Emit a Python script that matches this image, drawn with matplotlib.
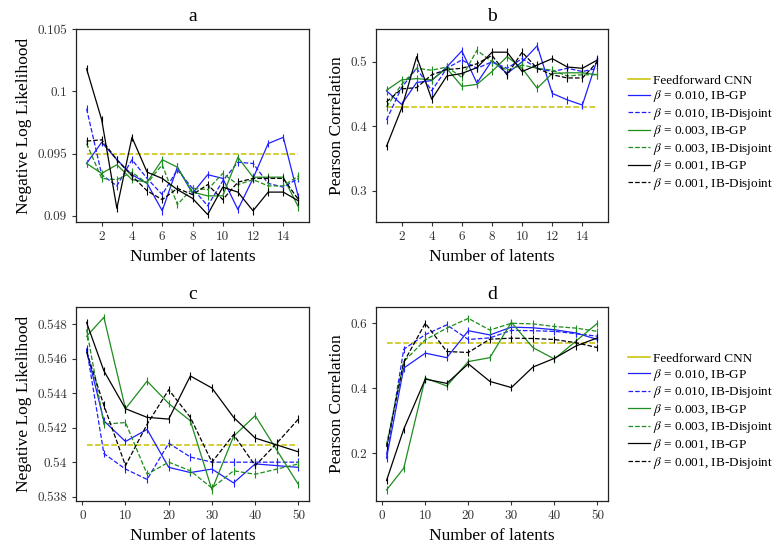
import numpy as np
import matplotlib
matplotlib.use("Agg")
import matplotlib.pyplot as plt
from matplotlib.ticker import FuncFormatter

plt.rcParams['font.family'] = ['Liberation Serif', 'DejaVu Serif']
plt.rcParams['mathtext.fontset'] = 'stix'

# latents axis
latents_small = [1, 2, 3, 4, 5, 6, 7, 8, 9, 10, 11, 12, 13, 14, 15]
latents_big = [1, 5, 10, 15, 20, 25, 30, 35, 40, 45, 50]

series_labels = [r'$\beta$ = 0.010, IB-GP', r'$\beta$ = 0.010, IB-Disjoint',
                 r'$\beta$ = 0.003, IB-GP', r'$\beta$ = 0.003, IB-Disjoint',
                 r'$\beta$ = 0.001, IB-GP', r'$\beta$ = 0.001, IB-Disjoint']

# panel a - negative log likelihood, small latents
cnn_a = 0.095
a_gp_010 = [0.0942, 0.0959, 0.0945, 0.0933, 0.0926, 0.0904, 0.0939, 0.0918, 0.0933, 0.0930, 0.0905, 0.0930, 0.0958, 0.0963, 0.0915]
a_dj_010 = [0.0986, 0.0933, 0.0924, 0.0945, 0.0930, 0.0917, 0.0937, 0.0922, 0.0908, 0.0928, 0.0943, 0.0942, 0.0926, 0.0923, 0.0930]
a_gp_003 = [0.0942, 0.0934, 0.0941, 0.0929, 0.0927, 0.0945, 0.0939, 0.0919, 0.0916, 0.0916, 0.0947, 0.0931, 0.0931, 0.0931, 0.0907]
a_dj_003 = [0.0958, 0.0930, 0.0929, 0.0935, 0.0926, 0.0941, 0.0909, 0.0922, 0.0921, 0.0934, 0.0925, 0.0929, 0.0924, 0.0924, 0.0932]
a_gp_001 = [0.1018, 0.0977, 0.0906, 0.0963, 0.0935, 0.0930, 0.0921, 0.0914, 0.0901, 0.0923, 0.0919, 0.0904, 0.0919, 0.0919, 0.0912]
a_dj_001 = [0.0960, 0.0961, 0.0945, 0.0932, 0.0920, 0.0913, 0.0922, 0.0917, 0.0925, 0.0913, 0.0927, 0.0930, 0.0930, 0.0930, 0.0913]

# panel b - pearson correlation, small latents
cnn_b = 0.43
b_gp_010 = [0.455, 0.434, 0.468, 0.471, 0.492, 0.517, 0.467, 0.502, 0.482, 0.500, 0.525, 0.451, 0.441, 0.433, 0.505]
b_dj_010 = [0.410, 0.460, 0.490, 0.455, 0.490, 0.503, 0.490, 0.500, 0.490, 0.505, 0.490, 0.485, 0.490, 0.485, 0.490]
b_gp_003 = [0.456, 0.472, 0.474, 0.472, 0.490, 0.462, 0.465, 0.485, 0.508, 0.490, 0.459, 0.482, 0.483, 0.483, 0.480]
b_dj_003 = [0.430, 0.465, 0.490, 0.487, 0.492, 0.476, 0.518, 0.500, 0.487, 0.495, 0.490, 0.487, 0.478, 0.480, 0.480]
b_gp_001 = [0.369, 0.428, 0.508, 0.442, 0.478, 0.482, 0.491, 0.515, 0.515, 0.485, 0.495, 0.505, 0.492, 0.490, 0.503]
b_dj_001 = [0.438, 0.458, 0.460, 0.480, 0.488, 0.490, 0.497, 0.510, 0.480, 0.515, 0.490, 0.480, 0.475, 0.475, 0.500]

# panel c - negative log likelihood, big latents
cnn_c = 0.541
c_gp_010 = [0.5465, 0.5424, 0.5412, 0.5419, 0.5397, 0.5394, 0.5396, 0.5388, 0.5399, 0.5398, 0.5397]
c_dj_010 = [0.5466, 0.5405, 0.5396, 0.5390, 0.5411, 0.5403, 0.5400, 0.5400, 0.5400, 0.5400, 0.5400]
c_gp_003 = [0.5473, 0.5484, 0.5431, 0.5447, 0.5434, 0.5424, 0.5384, 0.5415, 0.5427, 0.5407, 0.5387]
c_dj_003 = [0.5477, 0.5422, 0.5423, 0.5393, 0.5400, 0.5395, 0.5385, 0.5395, 0.5393, 0.5396, 0.5399]
c_gp_001 = [0.5481, 0.5453, 0.5431, 0.5426, 0.5425, 0.5450, 0.5443, 0.5426, 0.5414, 0.5410, 0.5406]
c_dj_001 = [0.5464, 0.5433, 0.5398, 0.5422, 0.5442, 0.5426, 0.5400, 0.5416, 0.5398, 0.5411, 0.5425]

# panel d - pearson correlation, big latents
cnn_d = 0.54
d_gp_010 = [0.185, 0.462, 0.508, 0.494, 0.577, 0.564, 0.588, 0.586, 0.580, 0.570, 0.550]
d_dj_010 = [0.195, 0.520, 0.565, 0.595, 0.550, 0.555, 0.578, 0.577, 0.575, 0.568, 0.560]
d_gp_003 = [0.087, 0.154, 0.431, 0.407, 0.482, 0.494, 0.603, 0.525, 0.490, 0.545, 0.600]
d_dj_003 = [0.226, 0.482, 0.549, 0.585, 0.615, 0.579, 0.600, 0.598, 0.590, 0.585, 0.575]
d_gp_001 = [0.116, 0.274, 0.428, 0.415, 0.475, 0.421, 0.402, 0.465, 0.492, 0.530, 0.555]
d_dj_001 = [0.220, 0.480, 0.600, 0.513, 0.510, 0.551, 0.554, 0.553, 0.550, 0.540, 0.525]

# rough size of the error bars in each panel
err_a = 0.0003
err_b = 0.006
err_c = 0.00022
err_d = 0.011

colors = ['#1f1fff', '#1f1fff', '#1e8c1e', '#1e8c1e', 'black', 'black']
styles = ['-', '--', '-', '--', '-', '--']
cnn_color = '#c8c000'


def panel(ax, x, series, cnn, err, title, ylabel, ylim, yticks, xticks, legend=False):
    ax.plot([x[0], x[-1]], [cnn, cnn], color=cnn_color, ls='--', lw=1.1, label='Feedforward CNN')
    for y, c, s, lab in zip(series, colors, styles, series_labels):
        ax.plot(x, y, color=c, ls=s, lw=0.9, label=lab)
        ax.errorbar(x, y, yerr=err, fmt='none', ecolor=c, elinewidth=0.8, capsize=0)
    ax.set_title(title, fontsize=14)
    ax.set_xlabel('Number of latents', fontsize=12.5)
    ax.set_ylabel(ylabel, fontsize=12.5)
    ax.set_ylim(*ylim)
    ax.set_yticks(yticks)
    ax.set_xticks(xticks)
    ax.yaxis.set_major_formatter(FuncFormatter(lambda v, p: '%g' % round(v, 4)))
    ax.tick_params(labelsize=9.5, colors='#333333', length=3, width=0.8)
    for lab in ax.get_xticklabels() + ax.get_yticklabels():
        lab.set_fontfamily('cmr10')
    for sp in ax.spines.values():
        sp.set_linewidth(0.9)
        sp.set_color('#222222')
    if legend:
        handles, labels = ax.get_legend_handles_labels()
        handles[0] = plt.Line2D([], [], color=cnn_color, lw=1.1)
        ax.legend(handles, labels, loc='center left', bbox_to_anchor=(1.063, 0.46),
                  frameon=False, fontsize=9.5, handlelength=1.67, labelspacing=0.12,
                  borderaxespad=0, handletextpad=0.25)


fig = plt.figure(figsize=(7.77, 5.48), dpi=100)
ax_a = fig.add_axes([0.0978, 0.5949, 0.2999, 0.3522])
ax_b = fig.add_axes([0.4839, 0.5949, 0.2986, 0.3522])
ax_c = fig.add_axes([0.0978, 0.0858, 0.2999, 0.3540])
ax_d = fig.add_axes([0.4839, 0.0858, 0.2986, 0.3540])

panel(ax_a, latents_small, [a_gp_010, a_dj_010, a_gp_003, a_dj_003, a_gp_001, a_dj_001], cnn_a, err_a,
      'a', 'Negative Log Likelihood', (0.0895, 0.105), [0.09, 0.095, 0.1, 0.105], range(2, 15, 2))
panel(ax_b, latents_small, [b_gp_010, b_dj_010, b_gp_003, b_dj_003, b_gp_001, b_dj_001], cnn_b, err_b,
      'b', 'Pearson Correlation', (0.2515, 0.551), [0.3, 0.4, 0.5], range(2, 15, 2), legend=True)
panel(ax_c, latents_big, [c_gp_010, c_dj_010, c_gp_003, c_dj_003, c_gp_001, c_dj_001], cnn_c, err_c,
      'c', 'Negative Log Likelihood', (0.53775, 0.549), [0.538, 0.54, 0.542, 0.544, 0.546, 0.548], range(0, 51, 10))
panel(ax_d, latents_big, [d_gp_010, d_dj_010, d_gp_003, d_dj_003, d_gp_001, d_dj_001], cnn_d, err_d,
      'd', 'Pearson Correlation', (0.053, 0.65), [0.2, 0.4, 0.6], range(0, 51, 10), legend=True)

fig.savefig('out.png', dpi=100)
